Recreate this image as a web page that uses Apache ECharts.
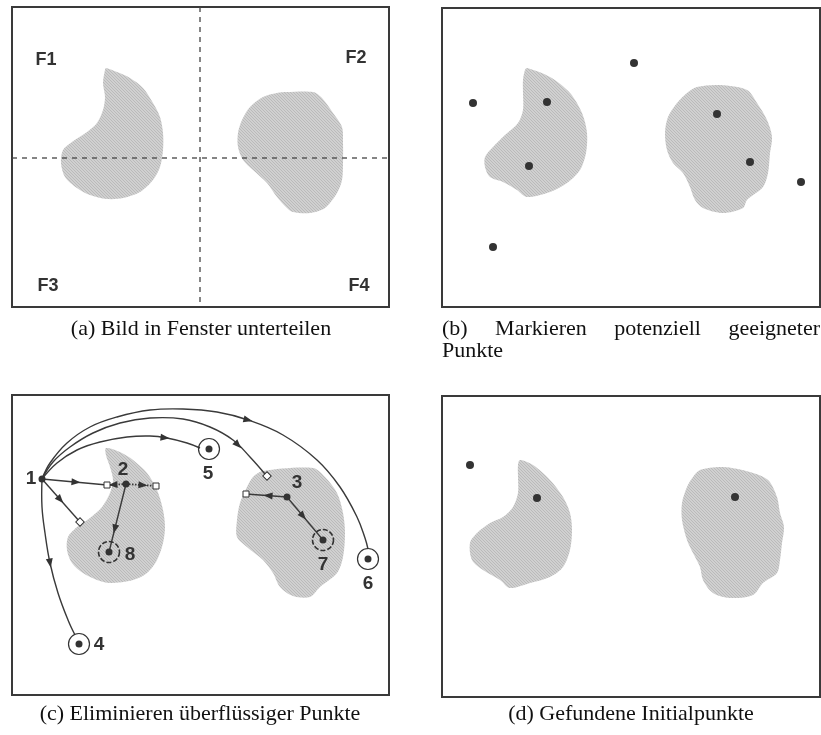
<!DOCTYPE html>
<html>
<head>
<meta charset="utf-8">
<script src="https://cdn.jsdelivr.net/npm/echarts@6/dist/echarts.min.js"></script>
<style>
  html, body { margin: 0; padding: 0; background: #fff; }
  #chart { width: 821px; height: 735px; }
</style>
</head>
<body>
<div id="chart"></div>
<script>
// ---------- panel (a): image split into four windows ----------
const blobA_left = [[94,61],[105,65],[118,71],[131,81],[141,96],[148,110],[151,126],[151,143],[148,160],[141,173],[128,185],[111,191],[95,192],[78,188],[65,181],[53,170],[49,156],[51,143],[60,135],[75,125],[85,116],[91,103],[93,90],[91,76],[93,63]];
const blobA_right = [[275,85],[301,85],[310,91],[321,106],[330,120],[331,136],[331,156],[330,173],[325,186],[313,201],[298,206],[281,205],[275,201],[265,190],[255,176],[241,163],[231,153],[226,140],[226,126],[230,113],[238,100],[251,90],[265,86]];
const dividerV = [[188,0],[188,300]];
const dividerH = [[0,151],[377,151]];
const windowNames = ['F1','F2','F3','F4'];
const windowNamePos = [[34,53],[344,51],[36,279],[347,279]];

// ---------- panel (b): candidate points ----------
const blobB_left = [[85,60],[108,69],[128,85],[140,105],[145,125],[144,145],[138,162],[125,175],[108,184],[85,189],[75,182],[61,174],[48,169],[43,159],[43,149],[51,139],[63,127],[76,115],[81,102],[81,85],[81,72],[83,62]];
const blobB_right = [[255,79],[278,77],[305,82],[315,95],[325,112],[330,129],[328,145],[326,165],[321,179],[305,192],[301,200],[281,205],[261,200],[253,192],[248,179],[241,165],[231,155],[225,142],[223,125],[226,109],[235,95],[245,85]];
const candidatesB = [[31,95],[105,94],[192,55],[87,158],[275,106],[308,154],[359,174],[51,239]];

// ---------- panel (c): eliminating redundant points ----------
const blobC_left = [[94,53],[108,57],[121,65],[135,78],[145,95],[151,115],[153,132],[151,148],[145,165],[135,178],[121,185],[98,188],[85,185],[71,178],[60,168],[55,155],[56,142],[65,132],[78,123],[90,112],[98,98],[101,85],[98,72],[94,60]];
const blobC_right = [[251,76],[301,73],[313,82],[325,98],[331,118],[333,138],[331,162],[325,178],[308,192],[298,202],[281,201],[268,192],[261,178],[251,165],[235,152],[225,142],[225,125],[228,108],[235,92],[241,82]];
const nodeNames = ['1','2','3','4','5','6','7','8'];
const nodesC = [[30,84],[114,89],[275,102],[67,249],[197,54],[356,164],[311,145],[97,157]];
const nodeLabelPos = [[19,84],[111,75],[285,88],[87,250],[196,79],[356,189],[311,170],[118,160]];
const keptNodes = [3,4,5];      // indices of 4, 5, 6
const mergedNodes = [6,7];      // indices of 7, 8
const squaresC = [[95,90],[144,91],[234,99]];
const diamondsC = [[68,127],[255,81]];
const curve16 = [[30,84],[38,68],[55,48],[78,32],[105,22],[138,15],[171,14],[205,17],[236,25],[271,40],[305,65],[328,92],[345,122],[353,143],[356,154]];
const curve1D = [[30,84],[41,67],[58,52],[81,38],[108,28],[138,23],[171,24],[198,32],[221,45],[238,62],[253,79]];
const curve15 = [[30,84],[45,68],[65,55],[88,47],[115,42],[138,41],[155,43],[175,48],[188,53]];
const curve14 = [[30,84],[30,112],[33,138],[38,168],[46,198],[56,225],[63,240]];
const segments = [
  [[30,84],[68,127]],
  [[30,84],[95,90]],
  [[114,89],[97,157]],
  [[275,102],[234,99]],
  [[275,102],[311,145]]
];
const dottedSegments = [
  [[114,89],[95,90]],
  [[114,89],[144,91]]
];
// arrowheads: [path group, path index, x, y]
const arrowsC = [
  ['curve',0,236,25],['curve',1,225,51],['curve',2,153,43],['curve',3,38,168],
  ['seg',0,48,105],['seg',1,64,87],['seg',2,103,134],['seg',3,256,101],['seg',4,290,122],
  ['dot',0,101,90],['dot',1,131,90]
];

// ---------- panel (d): initial points found ----------
const blobD_left = [[78,64],[91,69],[108,84],[121,101],[128,117],[130,134],[128,154],[121,171],[108,181],[88,187],[68,192],[58,184],[41,174],[30,164],[28,147],[35,137],[48,127],[61,121],[71,111],[76,97],[76,81],[76,69]];
const blobD_right = [[258,74],[281,71],[308,76],[326,84],[335,101],[338,117],[342,131],[340,147],[338,164],[335,177],[321,187],[311,199],[288,202],[271,197],[261,184],[258,171],[251,157],[245,144],[240,124],[240,107],[245,91],[251,81]];
const initialD = [[28,69],[95,102],[293,101]];

// ---------- captions ----------
const captionA = '(a) Bild in Fenster unterteilen';
const captionB1 = ['(b)','Markieren','potenziell','geeigneter'];
const captionB2 = 'Punkte';
const captionC = '(c) Eliminieren überflüssiger Punkte';
const captionD = '(d) Gefundene Initialpunkte';

// ---------- drawing ----------
const INK = '#333';
// fine diagonal halftone used to fill the objects
const hatch = document.createElement('canvas');
hatch.width = hatch.height = 3;
(function () {
  const g = hatch.getContext('2d');
  g.fillStyle = '#d0d0d0'; g.fillRect(0, 0, 3, 3);
  g.fillStyle = '#bababa';
  for (let i = 0; i < 3; i++) g.fillRect(i, i, 1, 1);
})();
const hatchFill = { image: hatch, repeat: 'repeat' };

const panels = [
  { left: 12,  top: 7,   width: 377, height: 300 },
  { left: 442, top: 8,   width: 378, height: 299 },
  { left: 12,  top: 395, width: 377, height: 300 },
  { left: 442, top: 396, width: 378, height: 301 }
];

function blobSeries(p, shapes) {
  return {
    type: 'custom', xAxisIndex: p, yAxisIndex: p, silent: true, z: 1,
    data: shapes.map((s, i) => [i]),
    renderItem: (params, api) => ({
      type: 'polygon',
      shape: { points: shapes[params.dataIndex].map(pt => api.coord(pt)), smooth: 0.3 },
      style: { fill: hatchFill, stroke: null }
    })
  };
}

function textSeries(p, texts, pos, size) {
  return {
    type: 'custom', xAxisIndex: p, yAxisIndex: p, silent: true, z: 6,
    data: pos.map(q => q.slice()),
    renderItem: (params, api) => {
      const c = api.coord(pos[params.dataIndex]);
      return {
        type: 'text', x: c[0], y: c[1],
        style: {
          text: texts[params.dataIndex], fill: INK,
          font: 'bold ' + size + 'px "Liberation Sans", Arial, sans-serif',
          align: 'center', verticalAlign: 'middle'
        }
      };
    }
  };
}

function dots(p, pts, size) {
  return {
    type: 'scatter', xAxisIndex: p, yAxisIndex: p, silent: true, z: 5,
    symbolSize: size, itemStyle: { color: INK, opacity: 1 }, data: pts
  };
}

function pathSeries(p, paths, dash, smooth) {
  return {
    type: 'custom', xAxisIndex: p, yAxisIndex: p, silent: true, z: 3,
    data: paths.map((s, i) => [i]),
    renderItem: (params, api) => ({
      type: 'polyline',
      shape: { points: paths[params.dataIndex].map(pt => api.coord(pt)), smooth: smooth },
      style: { stroke: '#3a3a3a', lineWidth: dash ? 1.8 : 1.4, fill: null, lineDash: dash }
    })
  };
}

const pathGroups = { curve: [curve16, curve1D, curve15, curve14], seg: segments, dot: dottedSegments };

function arrowSeries(p) {
  return {
    type: 'custom', xAxisIndex: p, yAxisIndex: p, silent: true, z: 4,
    data: arrowsC.map(a => [a[2], a[3]]),
    renderItem: (params, api) => {
      const a = arrowsC[params.dataIndex];
      const path = pathGroups[a[0]][a[1]].map(pt => api.coord(pt));
      const q = api.coord([a[2], a[3]]);
      // nearest point on the path gives both the position and the direction
      let best = null;
      for (let i = 0; i < path.length - 1; i++) {
        const A = path[i], B = path[i + 1];
        const dx = B[0] - A[0], dy = B[1] - A[1];
        const L = dx * dx + dy * dy || 1;
        let t = ((q[0] - A[0]) * dx + (q[1] - A[1]) * dy) / L;
        t = Math.max(0, Math.min(1, t));
        const P = [A[0] + t * dx, A[1] + t * dy];
        const d = Math.hypot(P[0] - q[0], P[1] - q[1]);
        if (!best || d < best.d) best = { d, P, ang: Math.atan2(dy, dx) };
      }
      const len = 9, hw = 3.5;
      const ca = Math.cos(best.ang), sa = Math.sin(best.ang);
      const tip = [best.P[0] + ca * len / 2, best.P[1] + sa * len / 2];
      const back = [best.P[0] - ca * len / 2, best.P[1] - sa * len / 2];
      return {
        type: 'polygon',
        shape: { points: [tip, [back[0] - sa * hw, back[1] + ca * hw], [back[0] + sa * hw, back[1] - ca * hw]] },
        style: { fill: '#333', stroke: null }
      };
    }
  };
}

function rings(p, pts, dashed) {
  return {
    type: 'scatter', xAxisIndex: p, yAxisIndex: p, silent: true, z: 4,
    symbol: 'circle', symbolSize: 21,
    itemStyle: { color: 'rgba(0,0,0,0)', borderColor: '#333', borderWidth: dashed ? 1.6 : 1.2, borderType: dashed ? [5, 2] : 'solid', opacity: 1 },
    data: pts
  };
}

function openMarks(p, pts, rot) {
  return {
    type: 'scatter', xAxisIndex: p, yAxisIndex: p, silent: true, z: 5,
    symbol: 'rect', symbolSize: 6, symbolRotate: rot,
    itemStyle: { color: '#fff', borderColor: '#333', borderWidth: 1, opacity: 1 },
    data: pts
  };
}

const series = [
  // (a)
  blobSeries(0, [blobA_left, blobA_right]),
  { type: 'line', xAxisIndex: 0, yAxisIndex: 0, data: dividerV, symbol: 'none', silent: true, z: 3,
    lineStyle: { color: '#444', width: 1.3, type: [5, 5] } },
  { type: 'line', xAxisIndex: 0, yAxisIndex: 0, data: dividerH, symbol: 'none', silent: true, z: 3,
    lineStyle: { color: '#444', width: 1.3, type: [5, 5] } },
  textSeries(0, windowNames, windowNamePos, 18),
  // (b)
  blobSeries(1, [blobB_left, blobB_right]),
  dots(1, candidatesB, 8),
  // (c)
  blobSeries(2, [blobC_left, blobC_right]),
  pathSeries(2, [curve16, curve1D, curve15, curve14], null, 0.4),
  pathSeries(2, segments, null, 0),
  pathSeries(2, dottedSegments, [1.5, 1.5], 0),
  arrowSeries(2),
  rings(2, keptNodes.map(i => nodesC[i]), false),
  rings(2, mergedNodes.map(i => nodesC[i]), true),
  openMarks(2, squaresC, 0),
  openMarks(2, diamondsC, 45),
  dots(2, nodesC, 7),
  textSeries(2, nodeNames, nodeLabelPos, 19),
  // (d)
  blobSeries(3, [blobD_left, blobD_right]),
  dots(3, initialD, 8)
];

const grids = panels.map(p => Object.assign({
  show: true, borderColor: '#3a3a3a', borderWidth: 2, backgroundColor: '#fff', containLabel: false
}, p));
const xAxes = panels.map((p, i) => ({ type: 'value', gridIndex: i, min: 0, max: p.width, show: false }));
const yAxes = panels.map((p, i) => ({ type: 'value', gridIndex: i, min: 0, max: p.height, inverse: true, show: false }));

// captions (serif, like the document body text)
const CAP_FONT = '22px "Liberation Serif", "Times New Roman", serif';
const meas = document.createElement('canvas').getContext('2d');
meas.font = CAP_FONT;
const bLeft = 442, bRight = 820;
const wordW = captionB1.map(w => meas.measureText(w).width);
const gap = (bRight - bLeft - wordW.reduce((s, w) => s + w, 0)) / (captionB1.length - 1);
const bLine = [];
let xPos = bLeft;
captionB1.forEach((w, i) => { bLine.push({ text: w, x: xPos }); xPos += wordW[i] + gap; });

const capY1 = 329, capY2 = 714;
const graphic = [
  { type: 'text', x: 201, y: capY1, style: { text: captionA, font: CAP_FONT, fill: '#111', align: 'center', verticalAlign: 'middle' } },
  ...bLine.map(b => ({ type: 'text', x: b.x, y: capY1, style: { text: b.text, font: CAP_FONT, fill: '#111', align: 'left', verticalAlign: 'middle' } })),
  { type: 'text', x: bLeft, y: capY1 + 22, style: { text: captionB2, font: CAP_FONT, fill: '#111', align: 'left', verticalAlign: 'middle' } },
  { type: 'text', x: 200, y: capY2, style: { text: captionC, font: CAP_FONT, fill: '#111', align: 'center', verticalAlign: 'middle' } },
  { type: 'text', x: 631, y: capY2, style: { text: captionD, font: CAP_FONT, fill: '#111', align: 'center', verticalAlign: 'middle' } }
];

const chart = echarts.init(document.getElementById('chart'), null, { renderer: 'canvas' });
chart.setOption({
  animation: false,
  backgroundColor: '#fff',
  grid: grids,
  xAxis: xAxes,
  yAxis: yAxes,
  series: series,
  graphic: graphic
});
</script>
</body>
</html>
